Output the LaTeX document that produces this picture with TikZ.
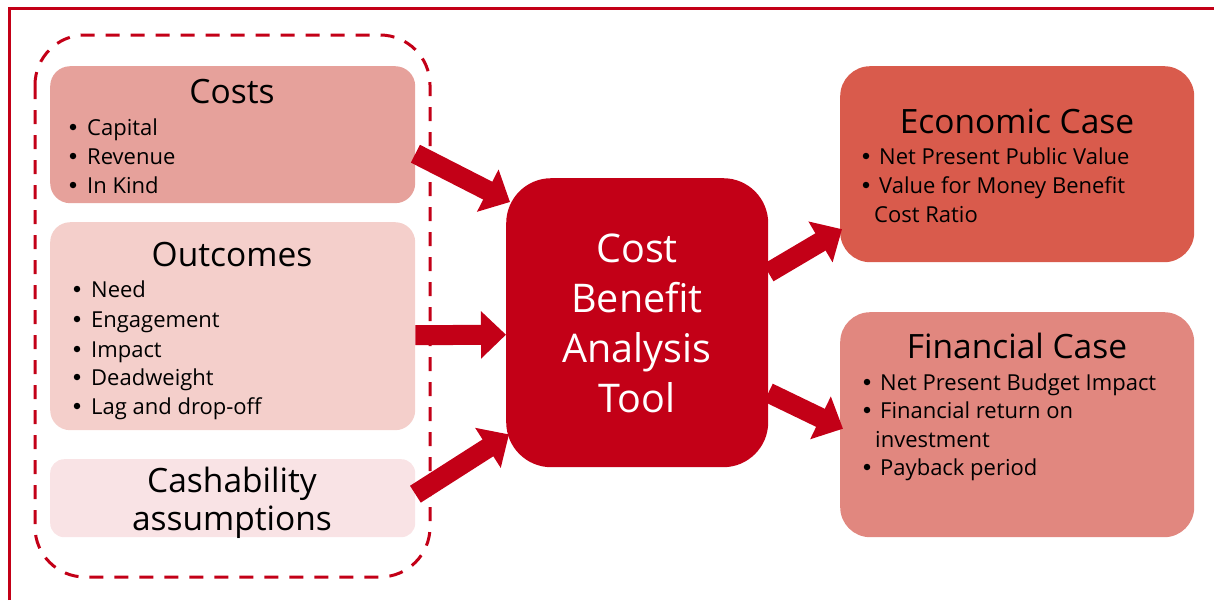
\documentclass[tikz,border=0pt]{standalone}
\usepackage{fontspec}
\setmainfont{Open Sans}
\usetikzlibrary{arrows.meta,calc}
\definecolor{cred}{HTML}{C30017}
\definecolor{ccost}{HTML}{E6A19B}
\definecolor{cout}{HTML}{F4CFCB}
\definecolor{ccash}{HTML}{F9E3E5}
\definecolor{cecon}{HTML}{D95B4C}
\definecolor{cfin}{HTML}{E1877F}
\begin{document}
\begin{tikzpicture}[x=1pt,y=-1pt,
  box/.style={draw=none,rounded corners=20pt,inner sep=0pt,anchor=north west},
  ttl/.style={font=\fontsize{33.5}{40}\selectfont,anchor=base,inner sep=0pt},
  itm/.style={font=\fontsize{22}{26}\selectfont,anchor=base west,inner sep=0pt},
  bul/.style={circle,fill=black,minimum size=6.5pt,inner sep=0pt,yshift=8pt},
  ctr/.style={font=\fontsize{39.5}{46}\selectfont,text=white,anchor=base,inner sep=0pt},
  bigarrow/.style={draw=cred,line width=20pt,-{Triangle[width=46pt,length=25pt]}},
]
\useasboundingbox (0,0) rectangle (1214,600);
% frame
\draw[cred,line width=2.8pt] (9.5,600) -- (9.5,8.5) -- (1214,8.5);
% dashed group
\draw[cred,line width=3pt,dash pattern=on 14pt off 11pt,rounded corners=50pt] (35,35) rectangle (430,577);
% boxes
\node[box,fill=ccost,minimum width=365pt,minimum height=137pt] (costs) at (50,66) {};
\node[box,fill=cout,minimum width=365pt,minimum height=208pt] (outc) at (50,222) {};
\node[box,fill=ccash,minimum width=365pt,minimum height=78pt,rounded corners=14pt] (cash) at (50,459) {};
\node[box,fill=cred,minimum width=262pt,minimum height=289pt,rounded corners=45pt] (cba) at (506,178) {};
\node[box,fill=cecon,minimum width=354pt,minimum height=196pt,rounded corners=30pt] (econ) at (840,66) {};
\node[box,fill=cfin,minimum width=354pt,minimum height=225pt,rounded corners=30pt] (fin) at (840,312) {};
% costs text
\node[ttl] (tc) at (232,103) {Costs};
\node[bul] (bc1) at (73,135) {}; \node[itm] (c1) at (87,135) {Capital};
\node[bul] (bc2) at (73,164) {}; \node[itm] (c2) at (87,164) {Revenue};
\node[bul] (bc3) at (73,193) {}; \node[itm] (c3) at (87,193) {In Kind};
% outcomes text
\node[ttl] (to) at (232,266) {Outcomes};
\node[bul] (bo1) at (77,297) {}; \node[itm] (o1) at (91,297) {Need};
\node[bul] (bo2) at (77,327) {}; \node[itm] (o2) at (91,327) {Engagement};
\node[bul] (bo3) at (77,357) {}; \node[itm] (o3) at (91,357) {Impact};
\node[bul] (bo4) at (77,385) {}; \node[itm] (o4) at (91,385) {Deadweight};
\node[bul] (bo5) at (77,414) {}; \node[itm] (o5) at (91,414) {Lag and drop-off};
% cashability
\node[ttl] (ca1) at (232,492) {Cashability};
\node[ttl] (ca2) at (232,530) {assumptions};
% central
\node[ctr] (z1) at (637,262) {Cost};
\node[ctr] (z2) at (637,312) {Benefit};
\node[ctr] (z3) at (637,362) {Analysis};
\node[ctr] (z4) at (637,412) {Tool};
% economic
\node[ttl] (te) at (1017,133) {Economic Case};
\node[bul] (be1) at (866,164) {}; \node[itm] (e1) at (879,164) {Net Present  Public Value};
\node[bul] (be2) at (866,193) {}; \node[itm] (e2) at (879,193) {Value for Money Benefit};
\node[itm] (e3) at (874,222) {Cost Ratio};
% financial
\node[ttl] (tf) at (1017,358) {Financial Case};
\node[bul] (bf1) at (867,390) {}; \node[itm] (f1) at (880,390) {Net Present  Budget Impact};
\node[bul] (bf2) at (867,418) {}; \node[itm] (f2) at (880,418) {Financial return on};
\node[itm] (f3) at (875,447) {investment};
\node[bul] (bf4) at (867,475) {}; \node[itm] (f4) at (880,475) {Payback period};
% arrows
\draw[bigarrow] ($(costs.east)+(0,19)$) -- ($(cba.north west)+(4,24)$);
\draw[bigarrow] ($(outc.east)+(0,9)$) -- ($(cba.west)+(0,12)$);
\draw[bigarrow] ($(cash.east)+(0,-4)$) -- ($(cba.south west)+(3,-33)$);
\draw[bigarrow] ($(cba.east)+(0,-50)$) -- ($(econ.west)+(2,65)$);
\draw[bigarrow] ($(cba.east)+(0,70)$) -- ($(fin.west)+(3,4)$);
\end{tikzpicture}
\end{document}
